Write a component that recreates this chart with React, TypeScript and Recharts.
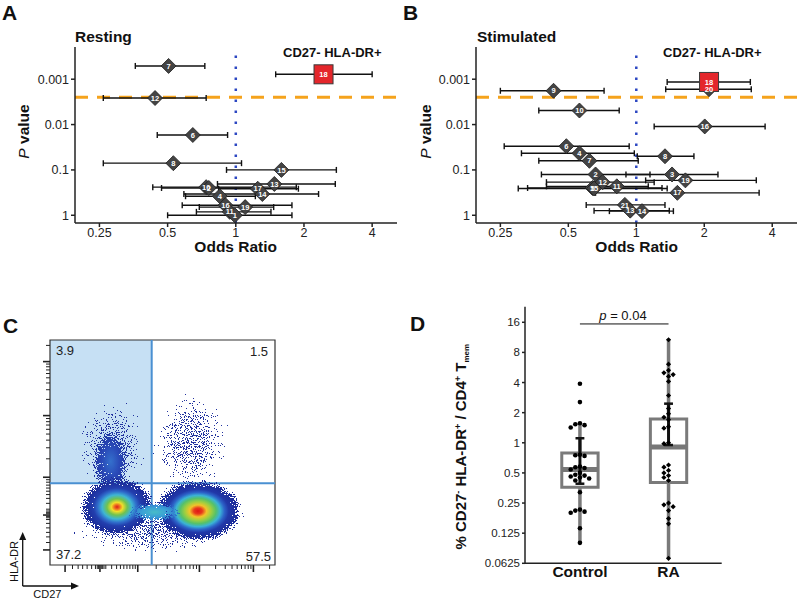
import React from 'react';
import {
  ScatterChart,
  Scatter,
  XAxis,
  YAxis,
  ErrorBar,
  ReferenceLine,
  ReferenceArea,
} from 'recharts';

// ---------- Panel A: resting (odds ratio vs P value) ----------
const restingIds = [7, 12, 6, 8, 15, 13, 10, 2, 17, 14, 4, 16, 19, 11, 1, 18];
const restingOR = [0.505, 0.44, 0.646, 0.53, 1.59, 1.48, 0.74, 0.76, 1.25, 1.31, 0.85, 0.9, 1.1, 0.94, 0.99, 2.44];
const restingP = [0.00051, 0.0026, 0.017, 0.071, 0.1, 0.204, 0.24, 0.25, 0.26, 0.34, 0.38, 0.6, 0.66, 0.84, 1.0, 0.00078];
const restingLow = [0.36, 0.26, 0.45, 0.26, 0.91, 0.83, 0.43, 0.47, 0.84, 0.59, 0.6, 0.58, 0.69, 0.67, 0.5, 1.5];
const restingHigh = [0.73, 0.74, 0.92, 1.06, 2.78, 2.75, 1.85, 1.25, 1.89, 2.32, 1.22, 1.77, 1.47, 1.43, 1.77, 4.0];

// ---------- Panel B: stimulated ----------
const stimIds = [9, 10, 16, 6, 4, 8, 7, 2, 3, 19, 12, 11, 5, 15, 17, 21, 13, 14, 20, 18];
const stimOR = [0.43, 0.56, 2.01, 0.49, 0.56, 1.34, 0.62, 0.66, 1.44, 1.65, 0.71, 0.82, 0.64, 0.65, 1.52, 0.89, 0.94, 1.06, 2.1, 2.1];
const stimP = [0.0018, 0.0049, 0.011, 0.03, 0.043, 0.05, 0.063, 0.126, 0.126, 0.17, 0.186, 0.23, 0.25, 0.257, 0.32, 0.59, 0.79, 0.81, 0.00166, 0.00115];
const stimLow = [0.25, 0.37, 1.2, 0.26, 0.31, 1.01, 0.37, 0.38, 0.9, 1.1, 0.4, 0.4, 0.33, 0.3, 0.66, 0.6, 0.65, 0.76, 1.35, 1.37];
const stimHigh = [0.72, 0.84, 3.72, 0.93, 0.98, 1.8, 1.02, 1.15, 2.3, 3.4, 1.2, 1.13, 1.3, 1.37, 3.5, 1.34, 1.4, 1.46, 3.23, 3.2];

const orTicks = [0.25, 0.5, 1, 2, 4];
const pTicks = [0.001, 0.01, 0.1, 1];
const pThreshold = 0.0025;
const highlightId = 18;

// ---------- Panel C: flow plot ----------
const popNames = ['sparse DR+', 'sparse left', 'low spread', 'DR+ arm', 'CD27- core', 'CD27+ core', 'bridge'];
const popCD27 = [62.5, 27.5, 44.4, 27.0, 29.8, 65.8, 46.5];
const popHLADR = [54.5, 52.5, 17.0, 46.0, 25.8, 24.0, 23.5];
const popSpreadCD27 = [19, 16, 38, 9.5, 18, 21, 13];
const popSpreadHLADR = [24, 23, 14, 17, 14.5, 14.8, 4.6];
const popKind = ['sparse', 'sparse', 'sparse', 'arm', 'mainL', 'mainR', 'bridge'];
const gateCD27 = 45.2;
const gateHLADR = 36.3;
const quadrantPct = ['3.9', '1.5', '37.2', '57.5'];
const majorTicksC = [6.7, 22.2, 39, 66.4, 90.4];
const minorTicksC = [
  10, 12.5, 14.5, 16.5, 18.5, 20.2, 21, 21.6, 22.8, 23.4, 24, 24.8,
  27.4, 29.6, 31.3, 32.8, 34.2, 35.5, 36.8, 37.9,
  47.2, 52.1, 55.5, 58.2, 60.3, 62.2, 63.7, 65.1,
  73.6, 77.9, 80.9, 83.2, 85.1, 86.7, 88.1, 89.3, 97.6,
];

// ---------- Panel D: box plot ----------
const groupNames = ['Control', 'RA'];
const controlValues = [3.89, 2.55, 1.57, 1.53, 1.5, 1.42, 0.76, 0.75, 0.74, 0.58, 0.57, 0.56, 0.54, 0.5, 0.48, 0.47, 0.46, 0.45, 0.44, 0.42, 0.32, 0.215, 0.21, 0.205, 0.2, 0.14, 0.1];
const raValues = [10.7, 6.1, 5.3, 5.0, 4.8, 4.6, 4.1, 2.97, 2.2, 1.95, 1.8, 1.7, 1.45, 1.4, 1.0, 0.98, 0.6, 0.57, 0.53, 0.5, 0.47, 0.45, 0.42, 0.25, 0.24, 0.23, 0.21, 0.175, 0.155, 0.07];
const boxQ1 = [0.36, 0.4];
const boxMedian = [0.54, 0.91];
const boxQ3 = [0.79, 1.73];
const whiskerLow = [0.1, 0.07];
const whiskerHigh = [1.57, 10.7];
const errLow = [0.39, 0.95];
const errHigh = [1.11, 2.46];
const dTicks = [0.0625, 0.125, 0.25, 0.5, 1, 2, 4, 8, 16];
const pBracketY = 15.4;

const FONT = '"Liberation Sans", Arial, sans-serif';

const buildForest = (ids: number[], or: number[], p: number[], lo: number[], hi: number[]) =>
  ids.map((id, i) => ({
    id,
    or: or[i],
    p: p[i],
    err: [or[i] - lo[i], hi[i] - or[i]],
    highlight: id === highlightId,
  }));

const Marker = (props: any) => {
  const { cx, cy, payload } = props;
  if (payload.highlight) {
    return <rect x={cx - 9.5} y={cy - 9.5} width={19} height={19} fill="#e4262b" stroke="#3a3a3a" strokeWidth={1} />;
  }
  const r = 7.5;
  return (
    <polygon
      points={`${cx},${cy - r} ${cx + r},${cy} ${cx},${cy + r} ${cx - r},${cy}`}
      fill="#444"
      stroke="#1e1e1e"
      strokeWidth={0.8}
    />
  );
};

const IdLabel = (props: any) => {
  const { cx, cy, payload } = props;
  return (
    <text x={cx} y={cy} dy="0.35em" textAnchor="middle" fontSize={7.5} fontWeight="bold" fill="#fff">
      {payload.id}
    </text>
  );
};

const ForestPanel = ({ rows, left, marginLeft }: { rows: any[]; left: number; marginLeft: number }) => (
  <div style={{ position: 'absolute', left, top: 0 }}>
    <ScatterChart width={400} height={260} margin={{ top: 47, right: 3, bottom: 7, left: marginLeft }}>
      <XAxis
        type="number"
        dataKey="or"
        scale="log"
        domain={[0.195, 5.15]}
        allowDataOverflow
        ticks={orTicks}
        tickFormatter={(v) => String(v)}
        height={30}
        stroke="#222"
        strokeWidth={1.5}
        tickSize={4}
        tickMargin={1}
        tick={{ fontSize: 12.5, fill: '#222' }}
      />
      <YAxis
        type="number"
        dataKey="p"
        scale="log"
        domain={[0.000195, 1.48]}
        reversed
        allowDataOverflow
        ticks={pTicks}
        tickFormatter={(v) => String(v)}
        width={60}
        stroke="#222"
        strokeWidth={1.5}
        tickSize={4}
        tickMargin={2}
        tick={{ fontSize: 12.5, fill: '#222' }}
      />
      <ReferenceLine y={pThreshold} stroke="#f5a31c" strokeWidth={3} strokeDasharray="13 9" />
      <ReferenceLine x={1} stroke="#2c47c2" strokeWidth={2.5} strokeDasharray="2.5 8.5" />
      <Scatter data={rows} shape={Marker} isAnimationActive={false}>
        <ErrorBar dataKey="err" direction="x" width={3} stroke="#111" strokeWidth={1.4} />
      </Scatter>
      <Scatter data={rows} shape={IdLabel} isAnimationActive={false} />
    </ScatterChart>
  </div>
);

// flow plot helpers
const C_PX_PER_UNIT = 225 / 100;
const gradByKind: Record<string, string> = {
  sparse: 'gSparse',
  arm: 'gArm',
  mainL: 'gMainL',
  mainR: 'gMainR',
  bridge: 'gBridge',
};

const Blob = (props: any) => {
  const { cx, cy, payload } = props;
  return (
    <ellipse
      cx={cx}
      cy={cy}
      rx={payload.sx * C_PX_PER_UNIT}
      ry={payload.sy * C_PX_PER_UNIT}
      fill={`url(#${gradByKind[payload.kind]})`}
      filter="url(#speckle)"
    />
  );
};

const XTickC = (props: any) => {
  const { x, y, payload } = props;
  const major = majorTicksC.includes(payload.value);
  return <line x1={x} x2={x} y1={y} y2={y + (major ? 7 : 4)} stroke="#222" strokeWidth={major ? 1.6 : 1} />;
};

const YTickC = (props: any) => {
  const { x, y, payload } = props;
  const major = majorTicksC.includes(payload.value);
  return <line x1={x - (major ? 7 : 4)} x2={x} y1={y} y2={y} stroke="#222" strokeWidth={major ? 1.6 : 1} />;
};

// simple deterministic beeswarm: points that are close in log2 space go to side columns
const swarm = (values: number[], step: number, gap: number) => {
  const placed: { col: number; ly: number }[] = [];
  const slots = [0, -1, 1, -2, 2, -3, 3, -4, 4];
  return values.map((v) => {
    const ly = Math.log2(v);
    const near = placed.filter((p) => Math.abs(p.ly - ly) < gap);
    let col = 0;
    for (const s of slots) {
      if (!near.some((p) => p.col === s)) {
        col = s;
        break;
      }
    }
    placed.push({ col, ly });
    return col * step;
  });
};

const DotC = (props: any) => <circle cx={props.cx} cy={props.cy} r={2.3} fill="#000" />;
const DotRA = (props: any) => {
  const { cx, cy } = props;
  const r = 2.6;
  return <polygon points={`${cx},${cy - r} ${cx + r},${cy} ${cx},${cy + r} ${cx - r},${cy}`} fill="#000" />;
};

const BOX_HALF = 0.205;
const CAP_HALF = 0.05;

export default function App() {
  const restingRows = buildForest(restingIds, restingOR, restingP, restingLow, restingHigh);
  const stimRows = buildForest(stimIds, stimOR, stimP, stimLow, stimHigh);

  const pops = popNames.map((name, i) => ({
    name,
    x: popCD27[i],
    y: popHLADR[i],
    sx: popSpreadCD27[i],
    sy: popSpreadHLADR[i],
    kind: popKind[i],
  }));
  const cTicks = [...majorTicksC, ...minorTicksC].sort((a, b) => a - b);

  const ctrlOff = swarm(controlValues, 0.052, 0.15);
  const raOff = swarm(raValues, 0.052, 0.15);
  const controlPts = controlValues.map((v, i) => ({ x: 1 + ctrlOff[i], y: v }));
  const raPts = raValues.map((v, i) => ({ x: 2 + raOff[i], y: v }));

  const boxParts: React.ReactNode[] = [];
  groupNames.forEach((name, g) => {
    const gx = g + 1;
    boxParts.push(
      <ReferenceLine key={`wl${g}`} segment={[{ x: gx, y: whiskerLow[g] }, { x: gx, y: boxQ1[g] }]} stroke="#7a7a7a" strokeWidth={3.5} />,
      <ReferenceLine key={`wh${g}`} segment={[{ x: gx, y: boxQ3[g] }, { x: gx, y: whiskerHigh[g] }]} stroke="#7a7a7a" strokeWidth={3.5} />,
      <ReferenceArea key={`bx${g}`} x1={gx - BOX_HALF} x2={gx + BOX_HALF} y1={boxQ1[g]} y2={boxQ3[g]} fill="#fff" fillOpacity={0} stroke="#7a7a7a" strokeWidth={3} />,
      <ReferenceLine key={`md${g}`} segment={[{ x: gx - BOX_HALF, y: boxMedian[g] }, { x: gx + BOX_HALF, y: boxMedian[g] }]} stroke="#777" strokeWidth={5} />,
      <ReferenceLine key={`eb${g}`} segment={[{ x: gx, y: errLow[g] }, { x: gx, y: errHigh[g] }]} stroke="#111" strokeWidth={3} />,
      <ReferenceLine key={`et${g}`} segment={[{ x: gx - CAP_HALF, y: errHigh[g] }, { x: gx + CAP_HALF, y: errHigh[g] }]} stroke="#111" strokeWidth={2.5} />,
      <ReferenceLine key={`eb2${g}`} segment={[{ x: gx - CAP_HALF, y: errLow[g] }, { x: gx + CAP_HALF, y: errLow[g] }]} stroke="#111" strokeWidth={2.5} />
    );
  });

  return (
    <div style={{ position: 'absolute', left: 0, top: 0, width: 800, height: 600, background: '#fff', fontFamily: FONT }}>
      <ForestPanel rows={restingRows} left={0} marginLeft={15} />
      <ForestPanel rows={stimRows} left={400} marginLeft={16} />

      {/* C: flow plot */}
      <div style={{ position: 'absolute', left: 0, top: 290 }}>
        <ScatterChart width={300} height={310} margin={{ top: 50, right: 25, bottom: 25, left: 40 }}>
          <XAxis
            type="number"
            dataKey="x"
            domain={[0, 100]}
            allowDataOverflow
            ticks={cTicks}
            interval={0}
            tickSize={0}
            tickMargin={0}
            axisLine={false}
            tick={XTickC}
            height={10}
          />
          <YAxis
            type="number"
            dataKey="y"
            domain={[0, 100]}
            allowDataOverflow
            ticks={cTicks}
            interval={0}
            tickSize={0}
            tickMargin={0}
            axisLine={false}
            tick={YTickC}
            width={10}
          />
          <ReferenceArea x1={0} x2={gateCD27} y1={gateHLADR} y2={100} fill="#c6e0f4" fillOpacity={1}
            label={{ value: quadrantPct[0], position: 'insideTopLeft', offset: 6, fontSize: 13, fill: '#222' }} />
          <ReferenceArea x1={gateCD27} x2={100} y1={gateHLADR} y2={100} fillOpacity={0}
            label={{ value: quadrantPct[1], position: 'insideTopRight', offset: 7, fontSize: 13, fill: '#222' }} />
          <ReferenceArea x1={0} x2={gateCD27} y1={0} y2={gateHLADR} fillOpacity={0}
            label={{ value: quadrantPct[2], position: 'insideBottomLeft', offset: 6, fontSize: 13, fill: '#222' }} />
          <ReferenceArea x1={gateCD27} x2={100} y1={0} y2={gateHLADR} fillOpacity={0}
            label={{ value: quadrantPct[3], position: 'insideBottomRight', offset: 4, fontSize: 13, fill: '#222' }} />
          <Scatter data={pops} shape={Blob} isAnimationActive={false} />
          <ReferenceLine x={gateCD27} stroke="#4a90d2" strokeWidth={2} />
          <ReferenceLine y={gateHLADR} stroke="#4a90d2" strokeWidth={2} />
          <ReferenceArea x1={0} x2={100} y1={0} y2={100} fillOpacity={0} stroke="#333" strokeWidth={1.2} />
        </ScatterChart>
      </div>

      {/* D: box plot */}
      <div style={{ position: 'absolute', left: 400, top: 290 }}>
        <ScatterChart width={400} height={310} margin={{ top: 16.7, right: 78.3, bottom: 6.7, left: 65 }}>
          <XAxis
            type="number"
            dataKey="x"
            domain={[0.38, 2.6]}
            allowDataOverflow
            ticks={[1, 2]}
            tickFormatter={(v) => groupNames[v - 1]}
            tickSize={0}
            tickMargin={3}
            height={30}
            stroke="#222"
            strokeWidth={1.5}
            tick={{ fontSize: 15.5, fontWeight: 'bold', fill: '#111' }}
          />
          <YAxis
            type="number"
            dataKey="y"
            scale="log"
            domain={[0.0625, 22.9]}
            allowDataOverflow
            ticks={dTicks}
            interval={0}
            tickFormatter={(v) => String(v)}
            width={60}
            stroke="#222"
            strokeWidth={1.5}
            tickSize={3}
            tickMargin={2}
            tick={{ fontSize: 11.5, fill: '#222' }}
          />
          {boxParts}
          <ReferenceLine segment={[{ x: 1, y: pBracketY }, { x: 2, y: pBracketY }]} stroke="#111" strokeWidth={1} />
          <Scatter data={controlPts} shape={DotC} isAnimationActive={false} />
          <Scatter data={raPts} shape={DotRA} isAnimationActive={false} />
        </ScatterChart>
      </div>

      {/* annotations */}
      <svg width={800} height={600} style={{ position: 'absolute', left: 0, top: 0, pointerEvents: 'none' }} fontFamily={FONT}>
        <defs>
          <radialGradient id="gSparse">
            <stop offset="0" stopColor="#22339f" stopOpacity={0.52} />
            <stop offset="0.45" stopColor="#22339f" stopOpacity={0.43} />
            <stop offset="0.8" stopColor="#22339f" stopOpacity={0.24} />
            <stop offset="1" stopColor="#22339f" stopOpacity={0.04} />
          </radialGradient>
          <radialGradient id="gArm">
            <stop offset="0" stopColor="#3470cc" stopOpacity={1} />
            <stop offset="0.4" stopColor="#2a4ab8" stopOpacity={0.85} />
            <stop offset="0.75" stopColor="#1f35a2" stopOpacity={0.5} />
            <stop offset="1" stopColor="#1f35a2" stopOpacity={0.06} />
          </radialGradient>
          <radialGradient id="gMainL">
            <stop offset="0" stopColor="#d9201c" />
            <stop offset="0.065" stopColor="#ee6a1f" />
            <stop offset="0.14" stopColor="#f1de2b" />
            <stop offset="0.25" stopColor="#6fc250" />
            <stop offset="0.37" stopColor="#3eb6d4" />
            <stop offset="0.48" stopColor="#2f6ccb" />
            <stop offset="0.58" stopColor="#233fae" />
            <stop offset="0.76" stopColor="#1d2e9b" stopOpacity={0.72} />
            <stop offset="1" stopColor="#1d2e9b" stopOpacity={0.06} />
          </radialGradient>
          <radialGradient id="gMainR">
            <stop offset="0" stopColor="#e01515" />
            <stop offset="0.09" stopColor="#e83a1c" />
            <stop offset="0.18" stopColor="#f2c42a" />
            <stop offset="0.28" stopColor="#9fcf40" />
            <stop offset="0.38" stopColor="#55c16a" />
            <stop offset="0.47" stopColor="#3ab3d6" />
            <stop offset="0.56" stopColor="#2c62c8" />
            <stop offset="0.65" stopColor="#2138a8" />
            <stop offset="0.8" stopColor="#1d2e9b" stopOpacity={0.68} />
            <stop offset="1" stopColor="#1d2e9b" stopOpacity={0.06} />
          </radialGradient>
          <radialGradient id="gBridge">
            <stop offset="0" stopColor="#48bcc8" />
            <stop offset="0.45" stopColor="#3aa0d6" stopOpacity={0.9} />
            <stop offset="1" stopColor="#2a5cc4" stopOpacity={0.15} />
          </radialGradient>
          <filter id="speckle" x="-5%" y="-5%" width="110%" height="110%" colorInterpolationFilters="sRGB">
            <feTurbulence type="fractalNoise" baseFrequency="0.9" numOctaves={2} seed={7} result="noise" />
            <feColorMatrix in="noise" type="matrix" values="0 0 0 0 0  0 0 0 0 0  0 0 0 0 0  1.6 0 0 0 -0.3" result="nA" />
            <feComposite in="SourceAlpha" in2="nA" operator="arithmetic" k1={0} k2={1} k3={0.9} k4={-0.5} result="sum" />
            <feComponentTransfer in="sum" result="mask">
              <feFuncA type="discrete" tableValues="0 1" />
            </feComponentTransfer>
            <feColorMatrix in="SourceGraphic" type="matrix" values="1 0 0 0 0  0 1 0 0 0  0 0 1 0 0  0 0 0 0 1" result="opaque" />
            <feComposite in="opaque" in2="mask" operator="in" />
          </filter>
        </defs>

        {/* panel A */}
        <text x={2} y={20} fontSize={21} fontWeight="bold" fill="#111">A</text>
        <text x={75} y={41.5} fontSize={15.5} fontWeight="bold" fill="#111">Resting</text>
        <text x={283} y={57} fontSize={13} fontWeight="bold" fill="#111">CD27- HLA-DR+</text>
        <text x={235.7} y={251.5} fontSize={15.5} fontWeight="bold" fill="#111" textAnchor="middle">Odds Ratio</text>
        <text transform="translate(29,131.5) rotate(-90)" fontSize={15.5} fill="#111" textAnchor="middle">
          <tspan fontStyle="italic">P</tspan>
          <tspan fontWeight="bold"> value</tspan>
        </text>

        {/* panel B */}
        <text x={403} y={20} fontSize={21} fontWeight="bold" fill="#111">B</text>
        <text x={477} y={41.5} fontSize={15.5} fontWeight="bold" fill="#111">Stimulated</text>
        <text x={663} y={57} fontSize={13} fontWeight="bold" fill="#111">CD27- HLA-DR+</text>
        <text x={636.7} y={251.5} fontSize={15.5} fontWeight="bold" fill="#111" textAnchor="middle">Odds Ratio</text>
        <text transform="translate(430.5,131.5) rotate(-90)" fontSize={15.5} fill="#111" textAnchor="middle">
          <tspan fontStyle="italic">P</tspan>
          <tspan fontWeight="bold"> value</tspan>
        </text>

        {/* panel C */}
        <text x={3} y={333} fontSize={21} fontWeight="bold" fill="#111">C</text>
        <line x1={22.7} y1={586} x2={22.7} y2={538} stroke="#111" strokeWidth={1.3} />
        <polygon points="22.7,532 19.2,540 26.2,540" fill="#111" />
        <line x1={22.7} y1={586} x2={73} y2={586} stroke="#111" strokeWidth={1.3} />
        <polygon points="79,586 71,582.5 71,589.5" fill="#111" />
        <text transform="translate(18.3,561.5) rotate(-90)" fontSize={11} fill="#111" textAnchor="middle">HLA-DR</text>
        <text x={33.3} y={597.5} fontSize={11} fill="#111">CD27</text>

        {/* panel D */}
        <text x={410} y={331} fontSize={21} fontWeight="bold" fill="#111">D</text>
        <text x={623} y={319.5} fontSize={13} fill="#111" textAnchor="middle">
          <tspan fontStyle="italic">p</tspan> = 0.04
        </text>
        <text transform="translate(466,446.7) rotate(-90)" fontSize={15} fontWeight="bold" fill="#111" textAnchor="middle">
          % CD27<tspan dy={-5} fontSize={9}>-</tspan>
          <tspan dy={5}> HLA-DR</tspan>
          <tspan dy={-5} fontSize={9}>+</tspan>
          <tspan dy={5}> / CD4</tspan>
          <tspan dy={-5} fontSize={9}>+</tspan>
          <tspan dy={5}> T</tspan>
          <tspan dy={3} fontSize={8}>mem</tspan>
        </text>
      </svg>
    </div>
  );
}
